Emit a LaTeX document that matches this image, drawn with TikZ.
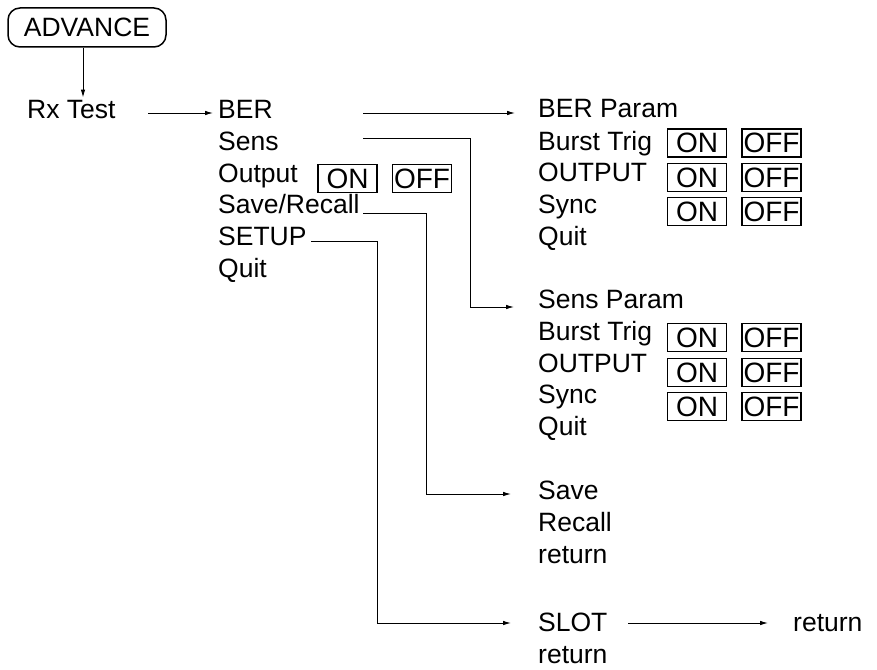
\documentclass[tikz,border=0pt]{standalone}
\usepackage{fontspec}
\setmainfont{Liberation Sans}
\usetikzlibrary{arrows.meta,positioning}
\begin{document}
\begin{tikzpicture}[x=1pt,y=-1pt,lbl/.style={anchor=base west,inner sep=0pt,font=\fontsize{26.5}{32}\selectfont},sw/.style={draw,line width=1.4pt,inner sep=0pt,minimum width=59pt,minimum height=28pt,font=\fontsize{28}{32}\selectfont},a/.style={-{Latex[length=8pt,width=4.5pt]},line width=0.9pt}]
\useasboundingbox (0,0) rectangle (877,669);
\node[draw,rounded corners=12pt,line width=1.5pt,minimum width=158pt,minimum height=39pt,inner sep=0pt,font=\fontsize{26.5}{32}\selectfont] (advance) at (87,27.5) {ADVANCE};
\node[lbl] (rxtest) at (27,118) {Rx Test};
% main menu
\node[lbl] (ber) at (218,118) {BER};
\node[lbl] (sens) at (218,150) {Sens};
\node[lbl] (output) at (218,182) {Output};
\node[lbl] (saverecall) at (218,213) {Save/Recall};
\node[lbl] (setup) at (218,245) {SETUP};
\node[lbl] (quit) at (218,277) {Quit};
\node[sw] (outon) at (347.5,178.5) {ON};
\node[sw] (outoff) at (422,178.5) {OFF};
% BER param
\node[lbl] (berparam) at (538,117) {BER Param};
\node[lbl] (berburst) at (538,150) {Burst Trig};
\node[lbl] (beroutput) at (538,181) {OUTPUT};
\node[lbl] (bersync) at (538,213) {Sync};
\node[lbl] (berquit) at (538,245) {Quit};
\foreach \y [count=\i] in {143,177.5,211.5}{\node[sw] (beron\i) at (697,\y) {ON}; \node[sw] (beroff\i) at (771.5,\y) {OFF};}
% Sens param
\node[lbl] (sensparam) at (538,308) {Sens Param};
\node[lbl] (sensburst) at (538,340) {Burst Trig};
\node[lbl] (sensoutput) at (538,372) {OUTPUT};
\node[lbl] (senssync) at (538,403) {Sync};
\node[lbl] (sensquit) at (538,435) {Quit};
\foreach \y [count=\i] in {337.5,372.5,406.5}{\node[sw] (senson\i) at (697,\y) {ON}; \node[sw] (sensoff\i) at (771.5,\y) {OFF};}
% save / setup
\node[lbl] (save) at (538,499) {Save};
\node[lbl] (recall) at (538,531) {Recall};
\node[lbl] (savereturn) at (538,563) {return};
\node[lbl] (slot) at (538,631) {SLOT};
\node[lbl] (slotreturn) at (538,663) {return};
\node[lbl] (ret) at (793,631) {return};
% connectors
\draw[a,shorten >=2pt] ([xshift=-4pt]advance.south) -- ([xshift=-4pt]advance.south |- rxtest.north);
\coordinate (rx-o) at (148,113);
\draw[a] (rx-o) -- ([xshift=-5pt]ber.west |- rx-o);
\coordinate (ber-o) at (363,113);
\draw[a] (ber-o) -- ([xshift=-23pt]berparam.west |- ber-o);
\coordinate (sens-o) at (363,138); \coordinate (sens-d) at (470,307);
\draw[a] (sens-o) -| (sens-d) -- ([xshift=-24pt]sensparam.west |- sens-d);
\coordinate (save-o) at (363,213); \coordinate (save-d) at (426,494);
\draw[a] (save-o) -| (save-d) -- ([xshift=-27pt]save.west |- save-d);
\coordinate (setup-o) at (311,241); \coordinate (setup-d) at (377,623);
\draw[a] (setup-o) -| (setup-d) -- ([xshift=-27pt]slot.west |- setup-d);
\coordinate (slot-o) at (628,623);
\draw[a] (slot-o) -- ([xshift=-25pt]ret.west |- slot-o);
\end{tikzpicture}
\end{document}
